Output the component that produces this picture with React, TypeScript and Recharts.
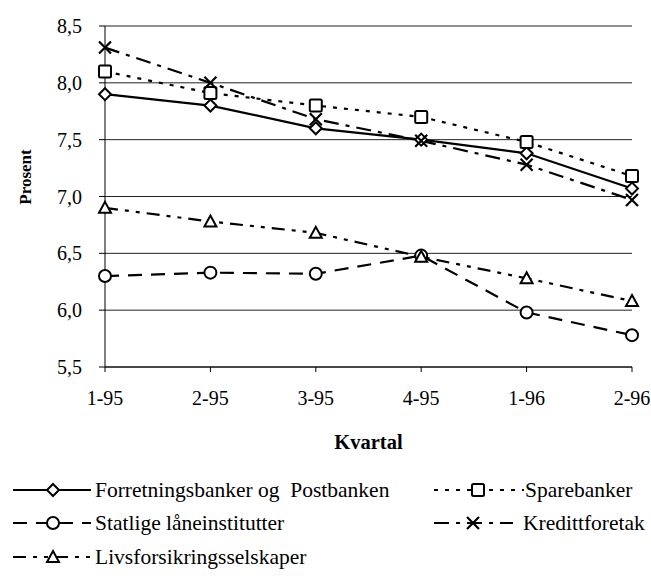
import { LineChart, Line, XAxis, YAxis, CartesianGrid, Label } from 'recharts'

const quarters = ['1-95', '2-95', '3-95', '4-95', '1-96', '2-96']
const forretningsbanker = [7.9, 7.8, 7.6, 7.5, 7.38, 7.07]
const sparebanker = [8.1, 7.91, 7.8, 7.7, 7.48, 7.18]
const statlige = [6.3, 6.33, 6.32, 6.48, 5.98, 5.78]
const kredittforetak = [8.31, 8.0, 7.68, 7.49, 7.28, 6.97]
const livsforsikring = [6.9, 6.78, 6.68, 6.47, 6.28, 6.08]
const yTicks = [5.5, 6, 6.5, 7, 7.5, 8, 8.5]

const FONT = '"Liberation Serif", "Times New Roman", serif'

const data = quarters.map((q, i) => ({
  q,
  forretningsbanker: forretningsbanker[i],
  sparebanker: sparebanker[i],
  statlige: statlige[i],
  kredittforetak: kredittforetak[i],
  livsforsikring: livsforsikring[i],
}))

type MarkerKind = 'diamond' | 'square' | 'circle' | 'cross' | 'triangle'

const series: { key: string; name: string; dash?: string; marker: MarkerKind }[] = [
  { key: 'forretningsbanker', name: 'Forretningsbanker og\u00a0 Postbanken', marker: 'diamond' },
  { key: 'sparebanker', name: 'Sparebanker', dash: '4 7', marker: 'square' },
  { key: 'statlige', name: 'Statlige låneinstitutter', dash: '14 9', marker: 'circle' },
  { key: 'kredittforetak', name: 'Kredittforetak', dash: '15 7 4 7', marker: 'cross' },
  { key: 'livsforsikring', name: 'Livsforsikringsselskaper', dash: '13 7 4 7 4 7', marker: 'triangle' },
]

function Marker({ kind, cx, cy }: { kind: MarkerKind; cx: number; cy: number }) {
  const common = { fill: '#fff', stroke: '#000', strokeWidth: 2 }
  switch (kind) {
    case 'diamond':
      return <path d={`M${cx},${cy - 6}L${cx + 6},${cy}L${cx},${cy + 6}L${cx - 6},${cy}Z`} {...common} />
    case 'square':
      return <rect x={cx - 6} y={cy - 6} width={12} height={12} rx={1.5} {...common} />
    case 'circle':
      return <circle cx={cx} cy={cy} r={6} {...common} />
    case 'triangle':
      return <path d={`M${cx},${cy - 6}L${cx + 6},${cy + 5}L${cx - 6},${cy + 5}Z`} {...common} />
    default:
      return <path d={`M${cx - 6},${cy - 6}L${cx + 6},${cy + 6}M${cx + 6},${cy - 6}L${cx - 6},${cy + 6}`} fill="none" stroke="#000" strokeWidth={2.2} />
  }
}

const fmt = (v: number) => v.toFixed(1).replace('.', ',')

function LegendItem({ s, left, cy, sampleWidth, markerX, textLeft }: {
  s: (typeof series)[number]; left: number; cy: number; sampleWidth: number; markerX: number; textLeft: number
}) {
  return (
    <>
      <svg width={sampleWidth + 2} height={20} style={{ position: 'absolute', left, top: cy - 10 }}>
        <line x1={1} y1={10} x2={sampleWidth + 1} y2={10} stroke="#000" strokeWidth={2} strokeDasharray={s.dash} />
        <Marker kind={s.marker} cx={markerX - left + 1} cy={10} />
      </svg>
      <span style={{ position: 'absolute', left: textLeft, top: cy - 14, lineHeight: '28px', fontFamily: FONT, fontSize: 21.5, whiteSpace: 'pre' }}>
        {s.name}
      </span>
    </>
  )
}

export default function App() {
  return (
    <div style={{ position: 'absolute', left: 0, top: 0, width: 651, height: 580, background: '#fff', overflow: 'hidden' }}>
      <LineChart width={651} height={460} data={data} margin={{ top: 26, right: 19, left: 0, bottom: 0 }}>
        <CartesianGrid vertical={false} stroke="#222" strokeWidth={1} />
        <XAxis dataKey="q" height={93} stroke="#000" tickSize={5} tickMargin={19} interval={0}
          tick={{ fontSize: 20, fill: '#000', fontFamily: FONT }}>
          <Label value="Kvartal" position="insideBottom" offset={11}
            style={{ fontFamily: FONT, fontWeight: 'bold', fontSize: 20.5, fill: '#000' }} />
        </XAxis>
        <YAxis width={105} domain={[5.5, 8.5]} ticks={yTicks} tickFormatter={fmt} stroke="#000" tickSize={6}
          tickMargin={17} tick={{ fontSize: 20, fill: '#000', fontFamily: FONT }} />
        {series.map((s) => (
          <Line key={s.key} dataKey={s.key} name={s.name} type="linear" stroke="#000" strokeWidth={2.2}
            strokeDasharray={s.dash} isAnimationActive={false}
            dot={(p: any) => <Marker key={`${s.key}-${p.index}`} kind={s.marker} cx={p.cx} cy={p.cy} />} />
        ))}
      </LineChart>
      <svg width={50} height={300} style={{ position: 'absolute', left: 0, top: 30 }}>
        <text x={25} y={147} transform="rotate(-90 25 147)" textAnchor="middle" dominantBaseline="central"
          fontFamily={FONT} fontWeight="bold" fontSize={17} fill="#000">
          Prosent
        </text>
      </svg>
      <LegendItem s={series[0]} left={12} cy={490} sampleWidth={78} markerX={52} textLeft={95} />
      <LegendItem s={series[1]} left={433} cy={490} sampleWidth={90} markerX={477} textLeft={525} />
      <LegendItem s={series[2]} left={12} cy={523} sampleWidth={78} markerX={52} textLeft={95} />
      <LegendItem s={series[3]} left={433} cy={523} sampleWidth={79} markerX={472} textLeft={523} />
      <LegendItem s={series[4]} left={12} cy={557} sampleWidth={78} markerX={52} textLeft={95} />
    </div>
  )
}
